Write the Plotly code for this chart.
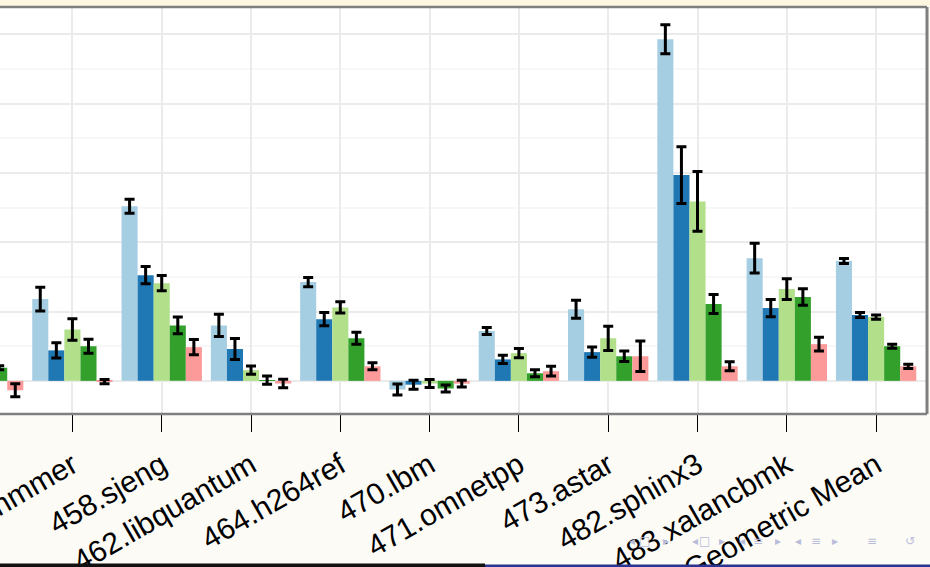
import plotly.graph_objects as go

categories = ["445.gobmk", "456.hmmer", "458.sjeng", "462.libquantum", "464.h264ref",
              "470.lbm", "471.omnetpp", "473.astar", "482.sphinx3", "483.xalancbmk",
              "Geometric Mean"]

series_names = ["Config 1", "Config 2", "Config 3", "Config 4", "Config 5"]
colors = ["#A6CEE3", "#1F78B4", "#B2DF8A", "#33A02C", "#FB9A99"]

s1 = [None, 11.8, 25.2, 8.0, 14.25, -1.25, 7.2, 10.35, 49.3, 17.7, 17.3]
e1 = [None, 1.7, 1.0, 1.6, 0.65, 0.8, 0.5, 1.3, 2.1, 2.15, 0.35]
s2 = [None, 4.4, 15.25, 4.6, 8.9, -0.55, 3.1, 4.15, 29.7, 10.5, 9.5]
e2 = [None, 1.1, 1.25, 1.5, 0.95, 0.65, 0.6, 0.75, 4.1, 1.25, 0.35]
s3 = [None, 7.4, 14.1, 1.55, 10.6, -0.38, 4.0, 6.15, 25.9, 13.25, 9.2]
e3 = [None, 1.55, 1.1, 0.6, 0.8, 0.58, 0.67, 1.75, 4.3, 1.5, 0.3]
s4 = [1.9, 5.0, 8.0, 0.1, 6.15, -1.1, 1.1, 3.55, 11.1, 12.1, 5.0]
e4 = [0.3, 1.0, 1.2, 0.6, 0.87, 0.5, 0.5, 0.77, 1.37, 1.2, 0.3]
s5 = [-1.35, -0.1, 4.86, -0.38, 2.1, -0.4, 1.4, 3.55, 2.1, 5.3, 2.1]
e5 = [0.95, 0.3, 1.1, 0.6, 0.5, 0.5, 0.7, 2.2, 0.65, 1.0, 0.3]

values = [s1, s2, s3, s4, s5]
errors = [e1, e2, e3, e4, e5]

xpos = list(range(len(categories)))

fig = go.Figure()
for name, col, v, e in zip(series_names, colors, values, errors):
    fig.add_trace(go.Bar(
        x=xpos, y=v, name=name, marker=dict(color=col, line=dict(width=0)),
        error_y=dict(type="data", array=e, visible=True, color="black",
                     thickness=3, width=5),
        showlegend=False,
    ))

W, H = 930, 567
L, R, T, B = 0, 3, 7, 153
pw, ph = W - L - R, H - T - B

def px_x(p):
    return (p - L) / pw

def px_y(p):
    return (H - B - p) / ph

fig.update_layout(
    width=W, height=H,
    margin=dict(l=L, r=R, t=T, b=B, pad=0, autoexpand=False),
    paper_bgcolor="#FCFBF6",
    plot_bgcolor="white",
    barmode="group", bargap=0.1, bargroupgap=0,
    font=dict(family="Liberation Sans, Arial, sans-serif", color="black"),
    xaxis=dict(
        range=[0.189, 10.57], tickmode="array", tickvals=xpos, ticktext=categories,
        tickangle=-30, tickfont=dict(size=30, color="black"),
        ticklabeloverflow="allow", automargin=False, ticklabelstandoff=4,
        ticks="outside", ticklen=17, tickwidth=1, tickcolor="black",
        showgrid=True, gridcolor="#EBEBEB", gridwidth=2,
        zeroline=False, showline=False,
    ),
    yaxis=dict(
        range=[-4.78, 53.95], dtick=10, showticklabels=False, ticks="",
        automargin=False,
        showgrid=True, gridcolor="#EBEBEB", gridwidth=2,
        minor=dict(dtick=5, showgrid=True, gridcolor="#F7F7F7", gridwidth=2),
        zeroline=False, showline=False,
    ),
    shapes=[
        dict(type="rect", xref="paper", yref="paper", x0=px_x(0), x1=px_x(W),
             y0=px_y(0), y1=px_y(6), fillcolor="#FDF6E1", line=dict(width=0)),
        dict(type="line", xref="paper", yref="paper", x0=-0.05, x1=1, y0=1, y1=1,
             line=dict(color="#7F7F7F", width=2.4)),
        dict(type="line", xref="paper", yref="paper", x0=-0.05, x1=1, y0=0, y1=0,
             line=dict(color="#7F7F7F", width=2.4)),
        dict(type="line", xref="paper", yref="paper", x0=1, x1=1, y0=0, y1=1,
             line=dict(color="#7F7F7F", width=3)),
        dict(type="rect", xref="paper", yref="paper", x0=px_x(0), x1=px_x(485),
             y0=px_y(563.5), y1=px_y(567), fillcolor="#111111", line=dict(width=0)),
        dict(type="rect", xref="paper", yref="paper", x0=px_x(485), x1=px_x(930),
             y0=px_y(564.5), y1=px_y(567), fillcolor="#2A3590", line=dict(width=0)),
    ],
)

nav = [(637, "◂"), (652, "□"), (671, "▸"), (700, "◂"), (712, "□"), (727, "▸"),
       (747, "◂"), (765, "≡"), (783, "▸"), (803, "◂"), (823, "≡"), (840, "▸"),
       (879, "≡"), (917, "↺")]
for xp, sym in nav:
    fig.add_annotation(x=px_x(xp), y=px_y(550), xref="paper", yref="paper",
                       text=sym, showarrow=False,
                       font=dict(size=12, color="#B9BCDA", family="DejaVu Sans"))

fig.write_html("out.html", config={"displayModeBar": False},
               post_script="document.body.style.margin='0';document.body.style.overflow='hidden';")
